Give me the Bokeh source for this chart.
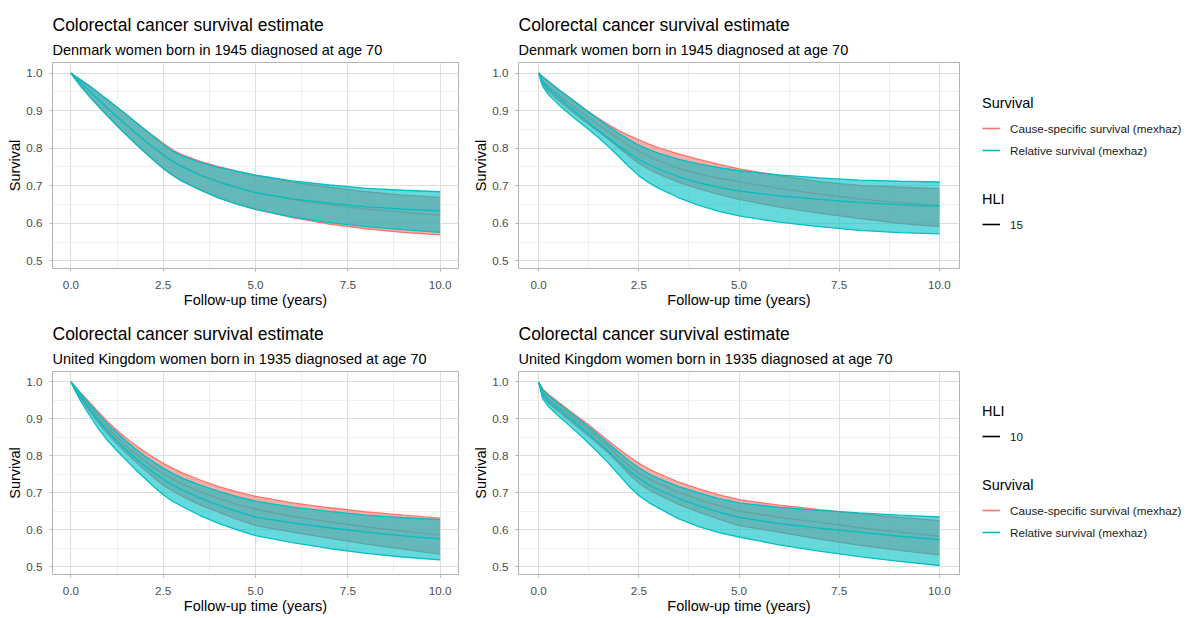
from bokeh.plotting import figure
from bokeh.layouts import row, column
from bokeh.models import Range1d, FixedTicker, PrintfTickFormatter, Title, Legend, LegendItem
from bokeh.embed import file_html
from bokeh.resources import INLINE

# ---------------- data ----------------
time = [0, 0.1, 0.25, 0.5, 0.75, 1, 1.25, 1.5, 1.75, 2, 2.25, 2.5, 2.75, 3, 3.5, 4, 4.5, 5, 6, 7, 8, 9, 10]

# Denmark women born 1945, HLI 15 (left panel)
dk1_cs_low = [1.0, 0.986, 0.967, 0.938, 0.911, 0.885, 0.860, 0.836, 0.812, 0.789, 0.767, 0.746, 0.728, 0.713, 0.689, 0.668, 0.651, 0.637, 0.615, 0.598, 0.585, 0.576, 0.569]
dk1_cs_est = [1.0, 0.990, 0.976, 0.952, 0.929, 0.906, 0.884, 0.862, 0.841, 0.820, 0.801, 0.783, 0.766, 0.752, 0.729, 0.711, 0.696, 0.682, 0.663, 0.650, 0.638, 0.629, 0.622]
dk1_cs_up = [1.0, 0.993, 0.983, 0.966, 0.947, 0.928, 0.909, 0.890, 0.870, 0.850, 0.832, 0.813, 0.796, 0.783, 0.765, 0.751, 0.739, 0.728, 0.710, 0.696, 0.684, 0.675, 0.669]
dk1_rs_low = [1.0, 0.986, 0.967, 0.938, 0.911, 0.885, 0.860, 0.836, 0.812, 0.789, 0.767, 0.746, 0.728, 0.713, 0.689, 0.668, 0.651, 0.637, 0.617, 0.602, 0.591, 0.583, 0.576]
dk1_rs_est = [1.0, 0.990, 0.976, 0.952, 0.929, 0.906, 0.884, 0.862, 0.841, 0.820, 0.801, 0.782, 0.765, 0.751, 0.728, 0.710, 0.695, 0.682, 0.665, 0.654, 0.644, 0.638, 0.633]
dk1_rs_up = [1.0, 0.993, 0.983, 0.966, 0.947, 0.928, 0.909, 0.890, 0.870, 0.850, 0.830, 0.810, 0.793, 0.780, 0.762, 0.749, 0.738, 0.728, 0.713, 0.702, 0.693, 0.688, 0.684]

# Denmark women born 1945, HLI 15 (right panel)
dk2_cs_low = [1.0, 0.972, 0.950, 0.927, 0.905, 0.884, 0.864, 0.844, 0.823, 0.802, 0.780, 0.760, 0.744, 0.731, 0.709, 0.692, 0.677, 0.664, 0.643, 0.627, 0.613, 0.600, 0.591]
dk2_cs_est = [1.0, 0.980, 0.963, 0.942, 0.921, 0.901, 0.881, 0.862, 0.843, 0.825, 0.808, 0.792, 0.778, 0.766, 0.746, 0.731, 0.720, 0.711, 0.693, 0.678, 0.665, 0.655, 0.648]
dk2_cs_up = [1.0, 0.990, 0.978, 0.957, 0.937, 0.917, 0.897, 0.879, 0.862, 0.847, 0.834, 0.822, 0.811, 0.801, 0.784, 0.770, 0.757, 0.745, 0.727, 0.711, 0.701, 0.696, 0.692]
dk2_rs_low = [1.0, 0.965, 0.942, 0.916, 0.893, 0.871, 0.850, 0.828, 0.804, 0.778, 0.751, 0.727, 0.708, 0.693, 0.668, 0.648, 0.632, 0.620, 0.603, 0.591, 0.581, 0.575, 0.572]
dk2_rs_est = [1.0, 0.977, 0.958, 0.935, 0.912, 0.890, 0.868, 0.847, 0.826, 0.806, 0.787, 0.770, 0.756, 0.744, 0.724, 0.708, 0.696, 0.686, 0.673, 0.664, 0.656, 0.650, 0.645]
dk2_rs_up = [1.0, 0.990, 0.977, 0.956, 0.936, 0.916, 0.896, 0.877, 0.858, 0.840, 0.823, 0.808, 0.796, 0.786, 0.770, 0.758, 0.748, 0.740, 0.729, 0.721, 0.715, 0.712, 0.710]

# United Kingdom women born 1935, HLI 10 (left panel)
uk1_cs_low = [1.0, 0.982, 0.957, 0.921, 0.888, 0.859, 0.833, 0.808, 0.785, 0.763, 0.741, 0.721, 0.706, 0.692, 0.668, 0.648, 0.629, 0.612, 0.594, 0.578, 0.562, 0.548, 0.535]
uk1_cs_est = [1.0, 0.986, 0.965, 0.934, 0.903, 0.875, 0.850, 0.827, 0.806, 0.786, 0.768, 0.752, 0.738, 0.725, 0.703, 0.685, 0.669, 0.656, 0.637, 0.622, 0.608, 0.597, 0.587]
uk1_cs_up = [1.0, 0.989, 0.972, 0.945, 0.918, 0.892, 0.869, 0.848, 0.829, 0.811, 0.795, 0.780, 0.767, 0.755, 0.735, 0.717, 0.703, 0.691, 0.673, 0.660, 0.649, 0.640, 0.632]
uk1_rs_low = [1.0, 0.979, 0.951, 0.910, 0.873, 0.841, 0.814, 0.788, 0.763, 0.740, 0.717, 0.695, 0.678, 0.664, 0.639, 0.618, 0.600, 0.585, 0.566, 0.550, 0.537, 0.527, 0.519]
uk1_rs_est = [1.0, 0.984, 0.961, 0.927, 0.895, 0.866, 0.840, 0.816, 0.794, 0.773, 0.754, 0.737, 0.722, 0.709, 0.686, 0.667, 0.650, 0.635, 0.619, 0.606, 0.594, 0.584, 0.576]
uk1_rs_up = [1.0, 0.988, 0.970, 0.941, 0.913, 0.886, 0.862, 0.840, 0.819, 0.800, 0.783, 0.767, 0.753, 0.741, 0.721, 0.704, 0.690, 0.678, 0.662, 0.650, 0.640, 0.633, 0.628]

# United Kingdom women born 1935, HLI 10 (right panel)
uk2_cs_low = [1.0, 0.962, 0.942, 0.920, 0.898, 0.876, 0.854, 0.831, 0.807, 0.780, 0.752, 0.727, 0.709, 0.695, 0.669, 0.648, 0.629, 0.612, 0.594, 0.575, 0.559, 0.545, 0.533]
uk2_cs_est = [1.0, 0.972, 0.954, 0.933, 0.912, 0.891, 0.870, 0.848, 0.824, 0.798, 0.774, 0.753, 0.738, 0.725, 0.702, 0.683, 0.666, 0.651, 0.634, 0.621, 0.606, 0.594, 0.583]
uk2_cs_up = [1.0, 0.982, 0.966, 0.945, 0.924, 0.904, 0.884, 0.862, 0.840, 0.819, 0.799, 0.780, 0.765, 0.752, 0.729, 0.711, 0.695, 0.682, 0.667, 0.655, 0.644, 0.634, 0.625]
uk2_rs_low = [1.0, 0.955, 0.933, 0.908, 0.884, 0.860, 0.834, 0.808, 0.780, 0.750, 0.719, 0.693, 0.674, 0.659, 0.630, 0.609, 0.593, 0.581, 0.560, 0.543, 0.528, 0.515, 0.504]
uk2_rs_est = [1.0, 0.968, 0.948, 0.926, 0.904, 0.882, 0.860, 0.836, 0.812, 0.786, 0.761, 0.740, 0.722, 0.708, 0.685, 0.665, 0.648, 0.634, 0.617, 0.605, 0.594, 0.583, 0.574]
uk2_rs_up = [1.0, 0.980, 0.963, 0.942, 0.921, 0.900, 0.879, 0.856, 0.833, 0.810, 0.788, 0.768, 0.752, 0.739, 0.717, 0.700, 0.685, 0.673, 0.661, 0.653, 0.646, 0.640, 0.635]

x_ticks = [0, 2.5, 5, 7.5, 10]
x_minor = [1.25, 3.75, 6.25, 8.75]
y_ticks = [0.5, 0.6, 0.7, 0.8, 0.9, 1.0]
y_minor = [0.55, 0.65, 0.75, 0.85, 0.95]

main_title = "Colorectal cancer survival estimate"
sub_dk = "Denmark women born in 1945 diagnosed at age 70"
sub_uk = "United Kingdom women born in 1935 diagnosed at age 70"
series_labels = ["Cause-specific survival (mexhaz)", "Relative survival (mexhaz)"]

# ---------------- styling ----------------
FONT = "Liberation Sans"
CS_COLOR = "#F8766D"
RS_COLOR = "#00BFC4"
ALPHA = 0.6
LW = 1.3


def make_panel(subtitle, cs, rs, width, height, mbl, mbr, mbt, mbb):
    p = figure(width=width, height=height, title=None,
               x_range=Range1d(-0.5, 10.5), y_range=Range1d(0.4797, 1.0282),
               toolbar_location=None, output_backend="svg",
               min_border_left=mbl, min_border_right=mbr,
               min_border_top=mbt, min_border_bottom=mbb)
    p.background_fill_color = "white"
    p.border_fill_color = "white"
    p.outline_line_color = "#B3B3B3"
    p.outline_line_width = 1

    p.add_layout(Title(text=subtitle, text_font=FONT, text_font_size="14.5px",
                       text_font_style="normal", text_color="#000000",
                       align="left", standoff=9, offset=0), "above")
    p.add_layout(Title(text=main_title, text_font=FONT, text_font_size="17.5px",
                       text_font_style="normal", text_color="#000000",
                       align="left", standoff=1, offset=0), "above")

    p.xaxis.ticker = FixedTicker(ticks=x_ticks, minor_ticks=x_minor)
    p.yaxis.ticker = FixedTicker(ticks=y_ticks, minor_ticks=y_minor)
    p.xaxis.formatter = PrintfTickFormatter(format="%.1f")
    p.yaxis.formatter = PrintfTickFormatter(format="%.1f")
    for ax in (p.xaxis, p.yaxis):
        ax.axis_line_color = None
        ax.major_tick_line_color = "#B3B3B3"
        ax.major_tick_out = 3
        ax.major_tick_in = 0
        ax.minor_tick_line_color = None
        ax.major_label_text_font = FONT
        ax.major_label_text_font_size = "11.7px"
        ax.major_label_text_color = "#4D4D4D"
        ax.axis_label_text_font = FONT
        ax.axis_label_text_font_size = "14.5px"
        ax.axis_label_text_font_style = "normal"
        ax.axis_label_text_color = "#000000"
    p.xaxis.axis_label = "Follow-up time (years)"
    p.yaxis.axis_label = "Survival"
    p.xaxis.major_label_standoff = 8
    p.xaxis.axis_label_standoff = 0
    p.yaxis.major_label_standoff = 6
    p.yaxis.axis_label_standoff = 0

    p.grid.grid_line_color = "#DEDEDE"
    p.grid.grid_line_width = 1
    p.grid.minor_grid_line_color = "#EBEBEB"
    p.grid.minor_grid_line_width = 0.8

    for (low, est, up), col in ((cs, CS_COLOR), (rs, RS_COLOR)):
        p.varea(x=time, y1=low, y2=up, fill_color=col, fill_alpha=ALPHA)
        p.line(time, low, line_color=col, line_width=LW)
        p.line(time, up, line_color=col, line_width=LW)
        p.line(time, est, line_color=col, line_width=LW)
    return p


def legend_fig(height, mbt, mbb, surv_y, hli_y, hli_label):
    p = figure(width=228, height=height, title=None,
               x_range=Range1d(0, 1), y_range=Range1d(0, 1),
               x_axis_type=None, y_axis_type=None,
               toolbar_location=None, output_backend="svg",
               min_border_left=0, min_border_right=0,
               min_border_top=mbt, min_border_bottom=mbb)
    p.outline_line_color = None
    p.background_fill_color = "white"
    p.border_fill_color = "white"
    r_cs = p.line([5, 6], [5, 5], line_color=CS_COLOR, line_width=1.6)
    r_rs = p.line([5, 6], [5, 5], line_color=RS_COLOR, line_width=1.6)
    r_h = p.line([5, 6], [5, 5], line_color="black", line_width=1.6)

    common = dict(padding=0, margin=0, spacing=2, label_height=20, glyph_height=20,
                  glyph_width=18, label_standoff=10, title_standoff=7,
                  border_line_color=None, background_fill_alpha=0,
                  label_text_font=FONT, label_text_font_size="11.7px",
                  label_text_color="#1A1A1A",
                  title_text_font=FONT, title_text_font_size="14.5px",
                  title_text_font_style="normal", title_text_color="#000000")
    leg_s = Legend(items=[LegendItem(label=series_labels[0], renderers=[r_cs]),
                          LegendItem(label=series_labels[1], renderers=[r_rs])],
                   title="Survival", location=(20, surv_y), **common)
    leg_h = Legend(items=[LegendItem(label=hli_label, renderers=[r_h])],
                   title="HLI", location=(20, hli_y), **common)
    p.add_layout(leg_s)
    p.add_layout(leg_h)
    return p


tl = make_panel(sub_dk, (dk1_cs_low, dk1_cs_est, dk1_cs_up), (dk1_rs_low, dk1_rs_est, dk1_rs_up),
                470, 310, 52, 12, 62, 40)
tr = make_panel(sub_dk, (dk2_cs_low, dk2_cs_est, dk2_cs_up), (dk2_rs_low, dk2_rs_est, dk2_rs_up),
                492, 310, 45, 3, 62, 40)
bl = make_panel(sub_uk, (uk1_cs_low, uk1_cs_est, uk1_cs_up), (uk1_rs_low, uk1_rs_est, uk1_rs_up),
                470, 306, 52, 12, 61, 39)
br = make_panel(sub_uk, (uk2_cs_low, uk2_cs_est, uk2_cs_up), (uk2_rs_low, uk2_rs_est, uk2_rs_up),
                492, 306, 45, 3, 61, 39)

leg_top = legend_fig(310, 62, 40, 108, 34, "15")
leg_bot = legend_fig(306, 61, 39, 32, 128, "10")

layout = column(row(tl, tr, leg_top), row(bl, br, leg_bot))

with open("out.html", "w") as f:
    f.write(file_html(layout, INLINE))
